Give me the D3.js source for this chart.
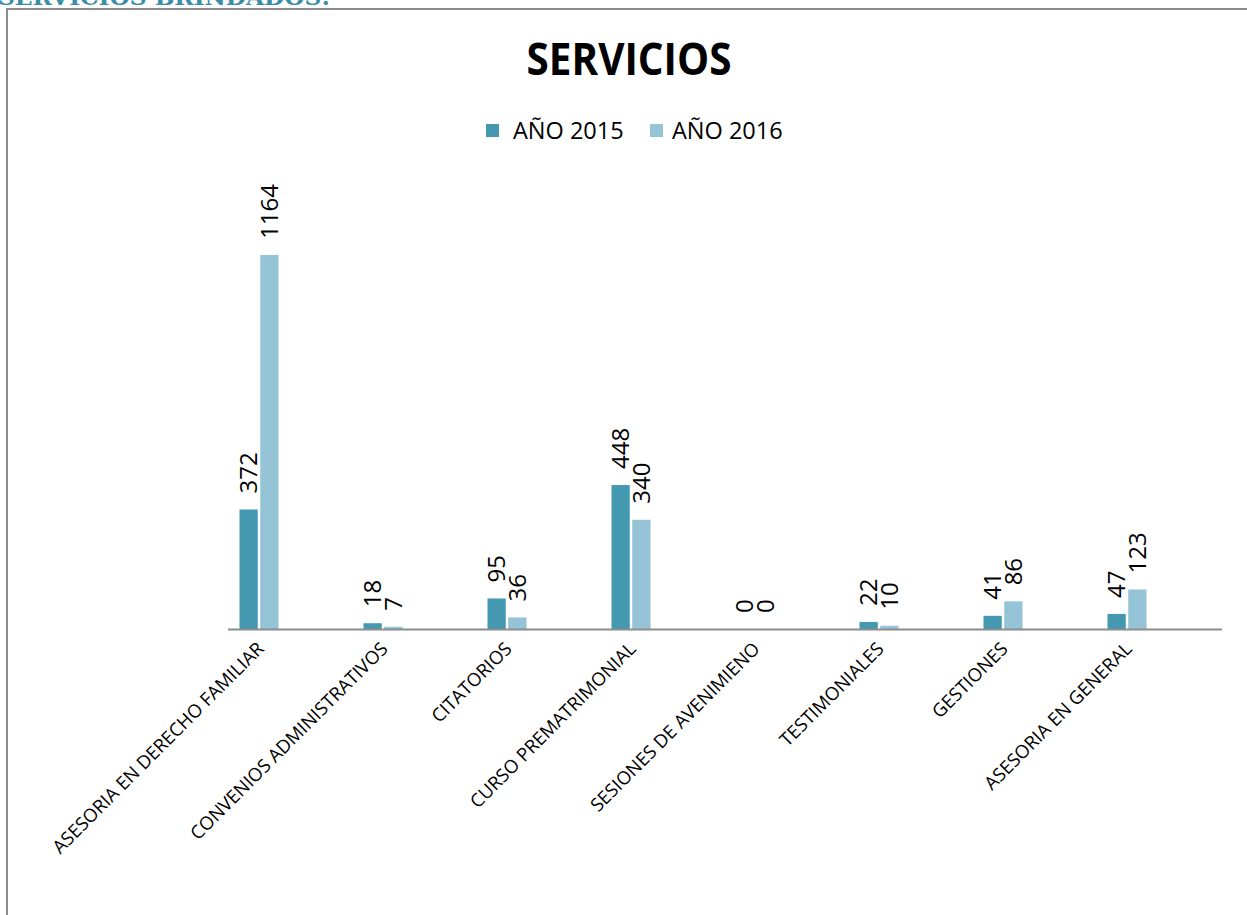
<!DOCTYPE html>
<html>
<head>
<meta charset="utf-8">
<script src="https://cdn.jsdelivr.net/npm/d3@7"></script>
<style>
  body { margin: 0; background: #fff; }
  svg { display: block; }
</style>
</head>
<body>
<div id="chartArea"></div>
<script>
const categories = [
  'ASESORIA EN DERECHO FAMILIAR',
  'CONVENIOS ADMINISTRATIVOS',
  'CITATORIOS',
  'CURSO PREMATRIMONIAL',
  'SESIONES DE AVENIMIENO',
  'TESTIMONIALES',
  'GESTIONES',
  'ASESORIA EN GENERAL'
];
const seriesNames = ['AÑO 2015', 'AÑO 2016'];
const values2015 = [372, 18, 95, 448, 0, 22, 41, 47];
const values2016 = [1164, 7, 36, 340, 0, 10, 86, 123];
const colors = ['#4499b1', '#94c4d6'];

const width = 1247;
const height = 915;
const baseY = 629;

const svg = d3.select('#chartArea').append('svg')
  .attr('width', width)
  .attr('height', height);

// heading of the page, mostly cut off above the picture
svg.append('text')
  .attr('x', -2)
  .attr('y', 5)
  .attr('textLength', 332)
  .attr('lengthAdjust', 'spacingAndGlyphs')
  .style('font-family', '"DejaVu Serif", serif')
  .style('font-weight', 'bold')
  .style('font-size', '23px')
  .style('fill', '#3a8fa6')
  .text('SERVICIOS BRINDADOS:');

// chart border
svg.append('rect')
  .attr('x', 7)
  .attr('y', 9)
  .attr('width', 1260)
  .attr('height', 930)
  .style('fill', 'none')
  .style('stroke', '#8c8c8c')
  .style('stroke-width', 2);

// title
svg.append('text')
  .attr('x', 629)
  .attr('y', 75)
  .attr('text-anchor', 'middle')
  .attr('textLength', 205)
  .attr('lengthAdjust', 'spacingAndGlyphs')
  .style('font-family', '"Open Sans", sans-serif')
  .style('font-weight', 'bold')
  .style('font-size', '45px')
  .style('fill', '#000')
  .text('SERVICIOS');

// legend
const legendX = [486, 650];
seriesNames.forEach((name, i) => {
  const lg = svg.append('g').attr('transform', `translate(${legendX[i]},124)`);
  lg.append('rect').attr('width', 13).attr('height', 13).style('fill', colors[i]);
  lg.append('text')
    .attr('x', i === 0 ? 27 : 22)
    .attr('y', 14.5)
    .style('font-family', '"Open Sans", sans-serif')
    .style('font-size', '23.5px')
    .style('fill', '#000')
    .text(name);
});

const y = d3.scaleLinear().domain([0, 1164]).range([baseY, 255]);

const x0 = d3.scaleBand().domain(categories).range([197, 1189]);
const x1 = d3.scaleBand().domain([0, 1])
  .range([x0.bandwidth() / 2 - 19.5, x0.bandwidth() / 2 + 19.5])
  .paddingInner(0.12);

const series = [values2015, values2016];
const rows = [];
categories.forEach((c, ci) => {
  series.forEach((vals, si) => rows.push({ cat: c, s: si, v: vals[ci] }));
});

const g = svg.append('g');

// Draw-bars
g.selectAll('rect.bar').data(rows).enter()
  .append('rect')
  .attr('class', 'bar')
  .attr('x', (d) => x0(d.cat) + x1(d.s))
  .attr('y', (d) => y(d.v))
  .attr('width', x1.bandwidth())
  .attr('height', (d) => baseY - y(d.v))
  .style('fill', (d) => colors[d.s]);

// value labels
g.selectAll('text.val').data(rows).enter()
  .append('text')
  .attr('class', 'val')
  .attr('transform', (d) => {
    const cx = x0(d.cat) + x1(d.s) + x1.bandwidth() / 2;
    return `translate(${cx},${y(d.v) - 16}) rotate(-90)`;
  })
  .attr('dy', '0.36em')
  .style('font-family', '"Open Sans", sans-serif')
  .style('font-size', '24px')
  .style('fill', '#000')
  .text((d) => d.v);

// axis line
svg.append('line')
  .attr('x1', 228).attr('x2', 1222)
  .attr('y1', baseY + 0.5).attr('y2', baseY + 0.5)
  .style('stroke', '#8c8c8c')
  .style('stroke-width', 2);

// category labels
svg.selectAll('text.cat').data(categories).enter()
  .append('text')
  .attr('class', 'cat')
  .attr('text-anchor', 'end')
  .attr('transform', (d) => `translate(${x0(d) + x0.bandwidth() / 2 + 6},${650}) rotate(-45)`)
  .style('font-family', '"Open Sans", sans-serif')
  .style('font-size', '18.5px')
  .style('fill', '#000')
  .text((d) => d);
</script>
</body>
</html>
